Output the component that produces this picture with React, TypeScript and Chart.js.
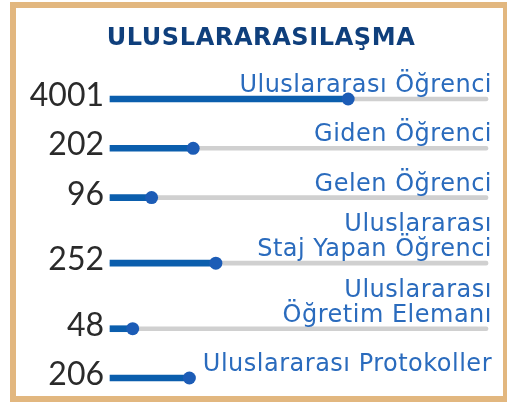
import React, { useEffect, useRef } from "react";
import { Chart, registerables } from "chart.js";

Chart.register(...registerables);

const title = "ULUSLARARASILAŞMA";
const labels: string[][] = [
  ["Uluslararası Öğrenci"],
  ["Giden Öğrenci"],
  ["Gelen Öğrenci"],
  ["Uluslararası", "Staj Yapan Öğrenci"],
  ["Uluslararası", "Öğretim Elemanı"],
  ["Uluslararası Protokoller"],
];
const counts = [4001, 202, 96, 252, 48, 206];
// progress shown on each slider (percent of the track)
const progress = [63, 22, 11, 28, 6, 21];
// track length (null = no grey track drawn)
const trackMax: (number | null)[] = [100, 100, 100, 100, 100, null];

// row positions derived from label line counts
const rowPos: number[] = (() => {
  const out: number[] = [];
  let acc = 0;
  labels.forEach((l, i) => {
    if (i > 0) acc += 1 + 0.33 * (l.length - 1);
    out.push(acc);
  });
  return out;
})();

export default function App() {
  const ref = useRef<HTMLCanvasElement | null>(null);
  useEffect(() => {
    if (!ref.current) return;
    const textPlugin = {
      id: "sliderText",
      afterDatasetsDraw(chart: any) {
        const ctx = chart.ctx as CanvasRenderingContext2D;
        const xs = chart.scales.x;
        const ys = chart.scales.y;
        ctx.save();
        // title
        ctx.font = 'bold 24px "DejaVu Sans"';
        (ctx as any).letterSpacing = "0.6px";
        ctx.fillStyle = "#0f3f7c";
        ctx.textAlign = "center";
        ctx.textBaseline = "alphabetic";
        ctx.fillText(title, 261, 45);
        for (let i = 0; i < counts.length; i++) {
          const y = ys.getPixelForValue(rowPos[i]);
          (ctx as any).letterSpacing = "0px";
          ctx.font = '400 32px Lato';
          ctx.fillStyle = "#2a2a2a";
          ctx.textAlign = "right";
          ctx.fillText(String(counts[i]), xs.left - 6, y + 7);
          ctx.font = '24px "DejaVu Sans"';
          (ctx as any).letterSpacing = "0.5px";
          ctx.fillStyle = "#2a6bbd";
          const lines = labels[i];
          for (let k = 0; k < lines.length; k++) {
            const off = (lines.length - 1 - k) * 25;
            ctx.fillText(lines[k], xs.right + 4, y - 7 - off);
          }
        }
        ctx.restore();
      },
    };
    const chart = new Chart(ref.current, {
      type: "bar",
      data: {
        datasets: [
          {
            type: "bar",
            label: "track",
            data: trackMax.map((v, i) => ({ x: v, y: rowPos[i] })).filter((d) => d.x !== null) as any,
            backgroundColor: "#d0d0d0",
            barThickness: 4,
            borderRadius: 2,
            borderSkipped: false,
            grouped: false,
            clip: false as any,
            order: 3,
          } as any,
          {
            type: "bar",
            label: "fill",
            data: progress.map((v, i) => ({ x: v, y: rowPos[i] })) as any,
            backgroundColor: "#0b5ead",
            barThickness: 6,
            grouped: false,
            clip: false as any,
            order: 2,
          } as any,
          {
            type: "line",
            label: "dot",
            data: progress.map((v, i) => ({ x: v, y: rowPos[i] })) as any,
            showLine: false,
            pointRadius: 6.5,
            pointBackgroundColor: "#1c5cb6",
            pointBorderWidth: 0,
            clip: false as any,
            order: 1,
          } as any,
        ],
      },
      options: {
        indexAxis: "y",
        responsive: false,
        animation: false,
        layout: { padding: { left: 110, right: 19, top: 99, bottom: 25 } },
        scales: {
          x: { type: "linear", min: 0, max: 100, display: false, offset: false },
          y: {
            type: "linear",
            min: 0,
            max: rowPos[rowPos.length - 1],
            reverse: true,
            display: false,
            offset: false,
          },
        },
        plugins: { legend: { display: false }, tooltip: { enabled: false } },
      } as any,
      plugins: [textPlugin],
    });
    return () => chart.destroy();
  }, []);
  return (
    <div style={{ position: "fixed", left: 0, top: 0, width: 507, height: 403, background: "#fff", overflow: "hidden" }}>
      <div
        style={{
          position: "absolute",
          left: 10,
          top: 2,
          width: 499,
          height: 400,
          boxSizing: "border-box",
          border: "6px solid #e2b77f",
        }}
      />
      <canvas ref={ref} width={507} height={403} style={{ position: "absolute", left: 0, top: 0 }} />
    </div>
  );
}
